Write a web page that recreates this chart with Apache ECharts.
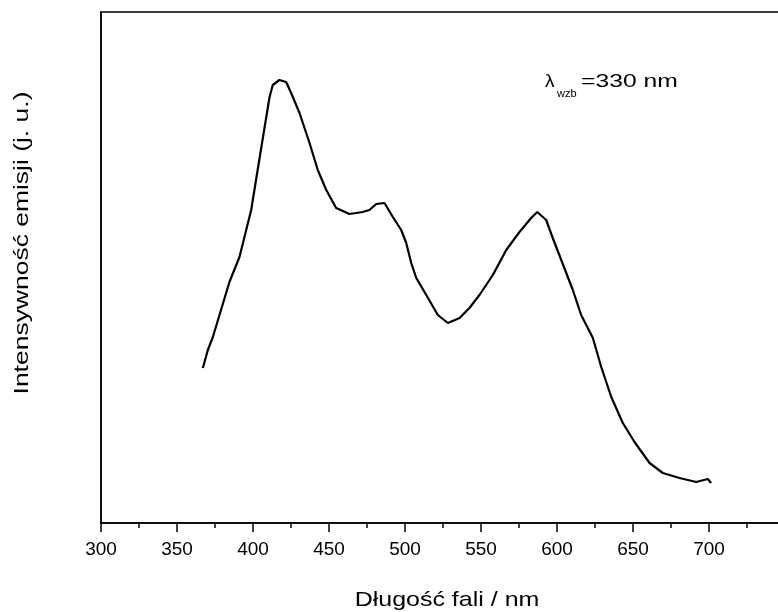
<!DOCTYPE html>
<html lang="pl">
    <head>
        <meta charset="utf-8">
        <title>Widmo emisji</title>
        <style>
            html, body { margin: 0; padding: 0; background: #fff; }
        </style>
    </head>
    <body>
        <div id="main" style="width: 778px;height:612px;"></div>
        <script src="https://cdn.jsdelivr.net/npm/echarts@6/dist/echarts.min.js"></script>
        <script type="text/javascript">
            // dane (jednostki umowne)
            var wavelength = [367.0, 370.3, 373.6, 384.5, 391.1, 398.8, 405.4, 410.9, 413.0, 417.4,
                421.8, 425.1, 430.6, 437.2, 442.6, 448.2, 454.7, 463.5, 472.2, 476.6,
                481.1, 486.5, 492.0, 497.5, 500.8, 504.1, 507.4, 514.0, 521.6, 528.2,
                535.9, 542.4, 549.0, 557.8, 566.6, 575.3, 583.0, 587.0, 592.9, 597.2,
                602.8, 610.4, 615.9, 623.6, 629.1, 635.7, 643.3, 651.0, 660.9, 669.6,
                680.6, 691.6, 699.2, 701.4];
            var intensity = [155, 173, 186, 241, 266, 313, 375, 426, 438, 443,
                441, 430, 410, 380, 353, 333, 315, 309, 311, 313,
                319, 320, 306, 293, 280, 260, 245, 228, 208, 200,
                205, 215, 228, 248, 273, 291, 305, 311, 303, 285,
                263, 233, 208, 185, 156, 126, 100, 81, 60, 50,
                45, 41, 44, 40];
            var xTicks = [300, 350, 400, 450, 500, 550, 600, 650, 700];

            var seriesData = [];
            for (var i = 0; i < wavelength.length; i++) {
                seriesData.push([wavelength[i], intensity[i]]);
            }

            var myChart = echarts.init(document.getElementById('main'));
            var font = '"Liberation Sans", Arial, sans-serif';

            myChart.setOption({
                backgroundColor: '#fff',
                animation: false,
                grid: {
                    left: 101,
                    top: 12,
                    width: 684,
                    height: 511,
                    outerBoundsMode: 'none',
                    show: true,
                    borderColor: '#000',
                    borderWidth: 1.5
                },
                xAxis: {
                    type: 'value',
                    min: xTicks[0],
                    max: 750,
                    interval: 50,
                    axisLine: {
                        onZero: false,
                        lineStyle: { color: '#000', width: 1.5 }
                    },
                    axisTick: {
                        inside: false,
                        length: 9,
                        lineStyle: { color: '#000', width: 1.5 }
                    },
                    minorTick: {
                        show: true,
                        splitNumber: 2,
                        length: 5,
                        lineStyle: { color: '#000', width: 1.5 }
                    },
                    axisLabel: {
                        showMaxLabel: false,
                        margin: 17,
                        fontFamily: font,
                        fontSize: 19,
                        color: '#000'
                    },
                    splitLine: { show: false }
                },
                yAxis: {
                    type: 'value',
                    min: 0,
                    max: 511,
                    axisLine: {
                        show: true,
                        lineStyle: { color: '#000', width: 1.5 }
                    },
                    axisTick: { show: false },
                    axisLabel: { show: false },
                    splitLine: { show: false }
                },
                graphic: [{
                    // nazwa osi X
                    type: 'text',
                    x: 447,
                    y: 600,
                    scaleX: 1.19,
                    style: {
                        text: 'Długość fali / nm',
                        fontFamily: font,
                        fontSize: 21,
                        fill: '#000',
                        align: 'center',
                        verticalAlign: 'middle'
                    }
                }, {
                    // nazwa osi Y
                    type: 'text',
                    x: 22,
                    y: 243,
                    rotation: Math.PI / 2,
                    scaleX: 1.26,
                    style: {
                        text: 'Intensywność emisji (j. u.)',
                        fontFamily: font,
                        fontSize: 21,
                        fill: '#000',
                        align: 'center',
                        verticalAlign: 'middle'
                    }
                }, {
                    type: 'text',
                    x: 545,
                    y: 91,
                    style: {
                        text: 'λ',
                        fontFamily: font,
                        fontSize: 19,
                        fill: '#000',
                        align: 'left',
                        verticalAlign: 'bottom'
                    }
                }, {
                    type: 'text',
                    x: 557,
                    y: 99,
                    style: {
                        text: 'wzb',
                        fontFamily: font,
                        fontSize: 11,
                        fill: '#000',
                        align: 'left',
                        verticalAlign: 'bottom'
                    }
                }, {
                    type: 'text',
                    x: 581,
                    y: 91,
                    scaleX: 1.3,
                    style: {
                        text: '=330 nm',
                        fontFamily: font,
                        fontSize: 19,
                        fill: '#000',
                        align: 'left',
                        verticalAlign: 'bottom'
                    }
                }],
                series: [{
                    type: 'line',
                    data: seriesData,
                    showSymbol: false,
                    smooth: false,
                    lineStyle: { color: '#000', width: 2.2 }
                }]
            });
        </script>
    </body>
</html>
